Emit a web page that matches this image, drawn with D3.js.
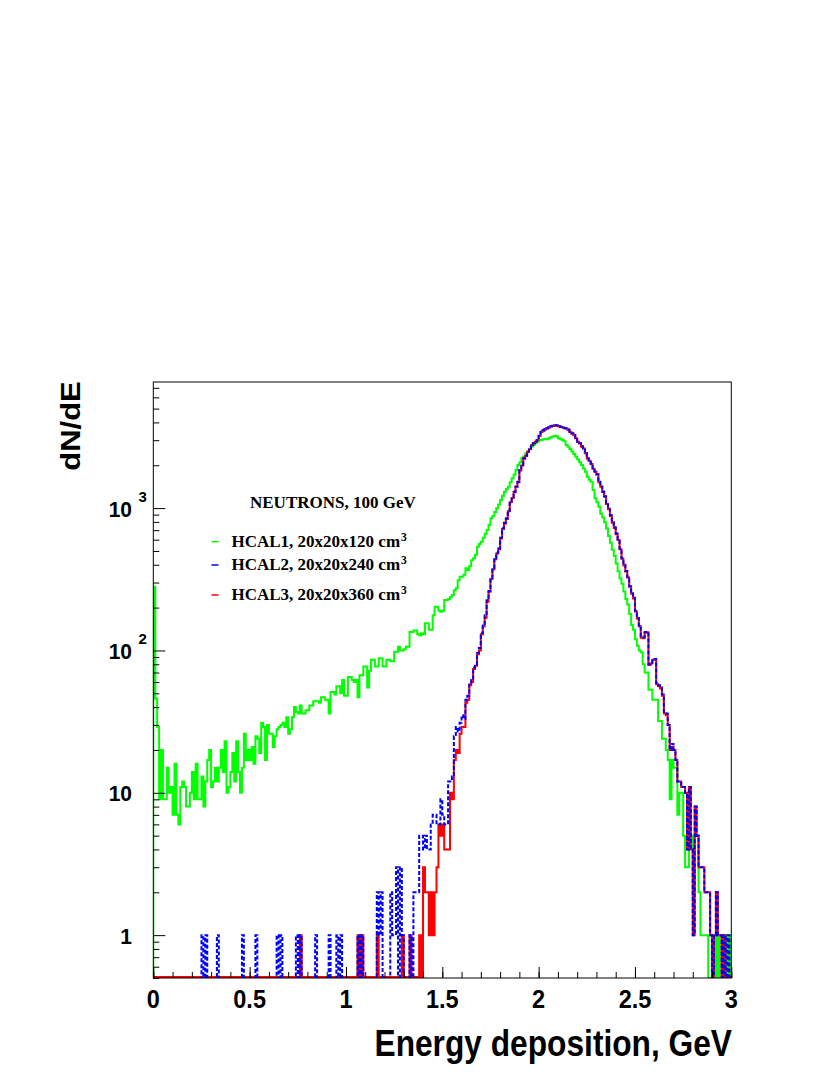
<!DOCTYPE html>
<html>
<head>
<meta charset="utf-8">
<script src="https://cdn.jsdelivr.net/npm/d3@7"></script>
<style>
  body { margin: 0; background: #fff; }
  .sans { font-family: "Liberation Sans", Arial, Helvetica, sans-serif; font-weight: bold; }
  .serif { font-family: "Liberation Serif", "Times New Roman", serif; font-weight: bold; }
</style>
</head>
<body>
<script>
// bins of 0.01 GeV from 0 to 3 GeV
const binStart = 0;
const binWidth = 0.01;

// HCAL1, 20x20x120 cm3 (green)
const hcal1 = [
  280, 46, 29, 9, 20, 9, 9, 15, 10, 11, 7, 16, 7, 6, 11, 12, 11, 8, 8, 10,
  14, 9, 16, 9, 9, 13, 8, 12, 17, 20, 11, 12, 15, 12, 15, 20, 14, 23, 10, 11,
  14, 19, 12, 23, 14, 10, 15, 26, 17, 20, 17, 21, 16, 25, 24, 19, 31, 29, 17, 30,
  26, 26, 21, 25, 28, 29, 30, 31, 29, 34, 26, 28, 34, 40, 37, 36, 41, 36, 36, 38,
  38, 41, 41, 44, 44, 44, 43, 47, 47, 45, 45, 36, 51, 51, 49, 56, 56, 50, 62, 48,
  48, 65, 65, 62, 60, 62, 47, 67, 67, 77, 77, 55, 72, 86, 86, 77, 77, 88, 88, 77,
  77, 86, 86, 84, 84, 98, 98, 106, 100, 100, 102, 106, 106, 135, 135, 138, 138, 130, 128, 132,
  130, 155, 155, 140, 140, 177, 203, 203, 190, 187, 190, 226, 226, 230, 238, 245, 265, 273, 311, 330,
  330, 340, 378, 367, 390, 431, 444, 470, 535, 560, 580, 620, 660, 702, 760, 848, 880, 940, 996, 1060,
  1140, 1220, 1304, 1360, 1413, 1520, 1618, 1720, 1854, 2010, 2100, 2240, 2300, 2420, 2494, 2600, 2700, 2780, 2850, 2930,
  3010, 3000, 3040, 3060, 3050, 3100, 3150, 3180, 3230, 3200, 3090, 3060, 3010, 2950, 2775, 2700, 2600, 2494, 2400, 2296,
  2200, 2100, 2010, 1900, 1803, 1663, 1580, 1534, 1340, 1172, 1100, 1023, 914, 860, 796, 720, 638, 570, 510, 460,
  409, 360, 320, 294, 260, 230, 210, 180, 151, 140, 120, 108, 100, 97, 80, 70, 70, 53, 53, 45,
  45, 45, 32, 32, 24, 24, 20, 17, 9, 17, 15, 15, 7, 10, 10, 5, 3, 3, 5, 5,
  2, 5, 5, 2, 1, 1, 1, 1, 0, 0, 1, 0, 1, 0, 1, 1, 0, 1, 0, 1
];

// HCAL2, 20x20x240 cm3 (blue, dashed)
const hcal2 = [
  0, 0, 0, 0, 0, 0, 0, 0, 0, 0, 0, 0, 0, 0, 0, 0, 0, 0, 0, 0,
  0, 0, 0, 0, 0, 1, 0, 1, 0, 0, 0, 0, 0, 1, 0, 0, 0, 0, 0, 0,
  0, 0, 0, 0, 0, 0, 1, 0, 0, 0, 0, 0, 0, 1, 0, 0, 0, 0, 0, 0,
  0, 0, 0, 0, 1, 0, 1, 0, 0, 0, 0, 0, 0, 0, 1, 0, 1, 0, 0, 0,
  0, 0, 0, 0, 1, 0, 0, 0, 0, 0, 0, 1, 0, 0, 0, 1, 0, 1, 0, 0,
  0, 0, 0, 0, 0, 0, 1, 0, 1, 0, 0, 0, 0, 0, 0, 0, 2, 1, 2, 0,
  0, 0, 0, 2, 1, 1, 3, 0, 3, 1, 0, 0, 0, 1, 0, 2, 2, 2, 5, 5,
  4, 5, 4, 4, 6, 7, 7, 6, 6, 9, 7, 6, 6, 12, 12, 13, 25, 29, 27, 31,
  35, 33, 45, 48, 59, 62, 76, 80, 96, 104, 132, 150, 177, 225, 262, 321, 380, 444, 485, 521,
  620, 721, 790, 848, 960, 1109, 1190, 1304, 1420, 1534, 1854, 2010, 2240, 2330, 2494, 2610, 2775, 2860, 2940, 3010,
  3230, 3445, 3520, 3590, 3640, 3700, 3760, 3790, 3840, 3810, 3770, 3730, 3720, 3660, 3640, 3560, 3440, 3350, 3265, 3120,
  2930, 2860, 2720, 2630, 2440, 2240, 2160, 2060, 1905, 1810, 1730, 1534, 1420, 1310, 1210, 1080, 990, 890, 800, 733,
  664, 604, 520, 444, 400, 362, 328, 282, 252, 235, 190, 169, 150, 124, 124, 135, 135, 80, 82, 87,
  87, 59, 57, 55, 49, 36, 36, 30, 20, 22, 20, 17, 12, 12, 11, 11, 10, 4, 11, 4,
  1, 8, 5, 3, 3, 3, 2, 2, 2, 1, 0, 1, 2, 1, 1, 0, 1, 0, 1, 0
];

// HCAL3, 20x20x360 cm3 (red)
const hcal3 = [
  0, 0, 0, 0, 0, 0, 0, 0, 0, 0, 0, 0, 0, 0, 0, 0, 0, 0, 0, 0,
  0, 0, 0, 0, 0, 0, 0, 0, 0, 0, 0, 0, 0, 0, 0, 0, 0, 0, 0, 0,
  0, 0, 0, 0, 0, 0, 0, 0, 0, 0, 0, 0, 0, 0, 0, 0, 0, 0, 0, 0,
  0, 0, 0, 0, 0, 0, 0, 0, 0, 0, 0, 0, 0, 0, 0, 0, 1, 0, 0, 0,
  0, 0, 0, 0, 0, 0, 0, 0, 0, 0, 0, 0, 0, 0, 0, 0, 0, 0, 0, 0,
  0, 0, 0, 0, 0, 0, 1, 0, 1, 0, 0, 0, 0, 0, 0, 0, 1, 0, 0, 0,
  0, 0, 0, 0, 0, 0, 0, 0, 0, 1, 0, 0, 0, 1, 0, 0, 0, 0, 1, 0,
  3, 2, 2, 1, 2, 1, 2, 3, 6, 5, 6, 4, 4, 4, 10, 9, 17, 20, 19, 26,
  29, 29, 43, 45, 57, 60, 74, 78, 94, 100, 130, 148, 170, 220, 258, 318, 372, 438, 480, 515,
  612, 712, 780, 840, 950, 1100, 1180, 1290, 1410, 1520, 1840, 1990, 2220, 2320, 2480, 2590, 2760, 2850, 2920, 3000,
  3210, 3420, 3500, 3570, 3620, 3680, 3740, 3780, 3820, 3800, 3760, 3720, 3700, 3640, 3620, 3540, 3420, 3330, 3250, 3100,
  2920, 2850, 2700, 2620, 2430, 2230, 2150, 2040, 1890, 1800, 1720, 1520, 1410, 1300, 1200, 1070, 980, 880, 790, 725,
  655, 598, 515, 440, 395, 358, 325, 280, 250, 232, 188, 168, 148, 123, 122, 133, 134, 79, 81, 86,
  86, 58, 56, 54, 48, 36, 35, 30, 20, 21, 20, 17, 12, 12, 11, 11, 10, 4, 11, 4,
  1, 8, 5, 3, 3, 3, 2, 2, 2, 1, 0, 1, 2, 1, 1, 0, 1, 0, 0, 0
];

const xTicks = [0, 0.5, 1, 1.5, 2, 2.5, 3];
const xTickLabels = ["0", "0.5", "1", "1.5", "2", "2.5", "3"];
const yTicks = [1, 10, 100, 1000];
const yTickBase = ["1", "10", "10", "10"];
const yTickExp = ["", "", "2", "3"];
const legendTitle = "NEUTRONS, 100 GeV";
const seriesNames = ["HCAL1, 20x20x120 cm", "HCAL2, 20x20x240 cm", "HCAL3, 20x20x360 cm"];
const seriesColors = ["#00ff00", "#0000ff", "#ff0000"];

const w = 830;
const h = 1075;
const padLeft = 153.3, padRight = 731.3, padTop = 382, padBottom = 978;

const svg = d3.select("body")
  .append("svg")
  .attr("width", w)
  .attr("height", h);

const x = d3.scaleLinear().domain([0, 3]).range([padLeft, padRight]);
const y = d3.scaleLog().domain([0.5, 7690]).range([padBottom, padTop]);
const yMin = y.domain()[0];

svg.append("clipPath").attr("id", "frame")
  .append("rect")
  .attr("x", padLeft).attr("y", padTop)
  .attr("width", padRight - padLeft).attr("height", padBottom - padTop);

// histogram outline as steps, empty bins sit on the bottom edge
// (shift moves the empty-bin level a little, so red shows along the floor)
function stepLine(vals, shift) {
  const floor = y(yMin) + shift;
  const pts = [[x(binStart), floor]];
  vals.forEach((v, i) => {
    const yy = v > 0 ? y(Math.max(v, yMin)) : floor;
    pts.push([x(binStart + i * binWidth), yy]);
    pts.push([x(binStart + (i + 1) * binWidth), yy]);
  });
  pts.push([x(binStart + vals.length * binWidth), floor]);
  return d3.line()(pts);
}

const plot = svg.append("g").attr("clip-path", "url(#frame)");

plot.append("path")
  .attr("d", stepLine(hcal1, 0))
  .attr("fill", "none")
  .attr("stroke", seriesColors[0])
  .attr("stroke-width", 2);

plot.append("path")
  .attr("d", stepLine(hcal3, -1))
  .attr("fill", "none")
  .attr("stroke", seriesColors[2])
  .attr("stroke-width", 2);

plot.append("path")
  .attr("d", stepLine(hcal2, 2))
  .attr("fill", "none")
  .attr("stroke", seriesColors[1])
  .attr("stroke-width", 2)
  .attr("stroke-dasharray", "4,2");

// x axis ticks (pointing up into the frame)
const xMinor = d3.range(0, 31).map(d => d / 10);
svg.append("g")
  .attr("transform", "translate(0," + padBottom + ")")
  .call(d3.axisBottom(x).tickValues(xMinor).tickSize(-6).tickFormat(""))
  .call(g => g.select(".domain").remove());
svg.append("g")
  .attr("transform", "translate(0," + padBottom + ")")
  .call(d3.axisBottom(x).tickValues(xTicks).tickSize(-11).tickFormat(""))
  .call(g => g.select(".domain").remove());

// y axis ticks
const yMinor = y.ticks().filter(d => yTicks.indexOf(d) < 0);
svg.append("g")
  .attr("transform", "translate(" + padLeft + ",0)")
  .call(d3.axisRight(y).tickValues(yMinor).tickSize(6).tickFormat(""))
  .call(g => g.select(".domain").remove());
svg.append("g")
  .attr("transform", "translate(" + padLeft + ",0)")
  .call(d3.axisRight(y).tickValues(yTicks).tickSize(12).tickFormat(""))
  .call(g => g.select(".domain").remove());

svg.selectAll(".tick line").attr("stroke", "#000");

// frame
svg.append("rect")
  .attr("x", padLeft).attr("y", padTop)
  .attr("width", padRight - padLeft).attr("height", padBottom - padTop)
  .attr("fill", "none")
  .attr("stroke", "#000")
  .attr("stroke-width", 1);

// x tick labels
svg.selectAll(".xlab")
  .data(xTicks)
  .enter()
  .append("text")
  .attr("class", "sans xlab")
  .attr("transform", d => "translate(" + x(d) + ",1008) scale(1,1.1)")
  .attr("text-anchor", "middle")
  .attr("font-size", 23.5)
  .text((d, i) => xTickLabels[i]);

// y tick labels
svg.selectAll(".ylab")
  .data(yTicks)
  .enter()
  .append("text")
  .attr("class", "sans ylab")
  .attr("transform", d => "translate(132," + (y(d) + 8.5) + ") scale(1,1.05)")
  .attr("text-anchor", "end")
  .attr("font-size", 21)
  .text((d, i) => yTickBase[i]);

svg.selectAll(".yexp")
  .data(yTicks)
  .enter()
  .append("text")
  .attr("class", "sans yexp")
  .attr("x", 138.5)
  .attr("y", d => y(d) - 6.5)
  .attr("font-size", 15)
  .text((d, i) => yTickExp[i]);

// axis titles
svg.append("text")
  .attr("class", "sans")
  .attr("transform", "translate(732,1056) scale(1,1.14)")
  .attr("text-anchor", "end")
  .attr("font-size", 31.7)
  .text("Energy deposition, GeV");

svg.append("text")
  .attr("class", "sans")
  .attr("transform", "translate(80,426) rotate(-90) scale(1,0.92)")
  .attr("text-anchor", "middle")
  .attr("font-size", 31)
  .text("dN/dE");

// legend
svg.append("text")
  .attr("class", "serif")
  .attr("x", 250)
  .attr("y", 508.3)
  .attr("font-size", 17)
  .text(legendTitle);

const legendY = [546.7, 570, 600];
const leg = svg.selectAll(".leg")
  .data(seriesNames)
  .enter()
  .append("g")
  .attr("class", "leg");

leg.append("line")
  .attr("x1", 211.5).attr("x2", 218.5)
  .attr("y1", (d, i) => legendY[i] - 5)
  .attr("y2", (d, i) => legendY[i] - 5)
  .attr("stroke", (d, i) => seriesColors[i])
  .attr("stroke-width", 1.5);

leg.append("text")
  .attr("class", "serif")
  .attr("x", 231.5)
  .attr("y", (d, i) => legendY[i])
  .attr("font-size", 17)
  .text(d => d)
  .each(function (d, i) {
    const bb = this.getBBox();
    d3.select(this.parentNode).append("text")
      .attr("class", "serif")
      .attr("x", bb.x + bb.width + 1)
      .attr("y", legendY[i] - 6)
      .attr("font-size", 11.5)
      .text("3");
  });
</script>
</body>
</html>
